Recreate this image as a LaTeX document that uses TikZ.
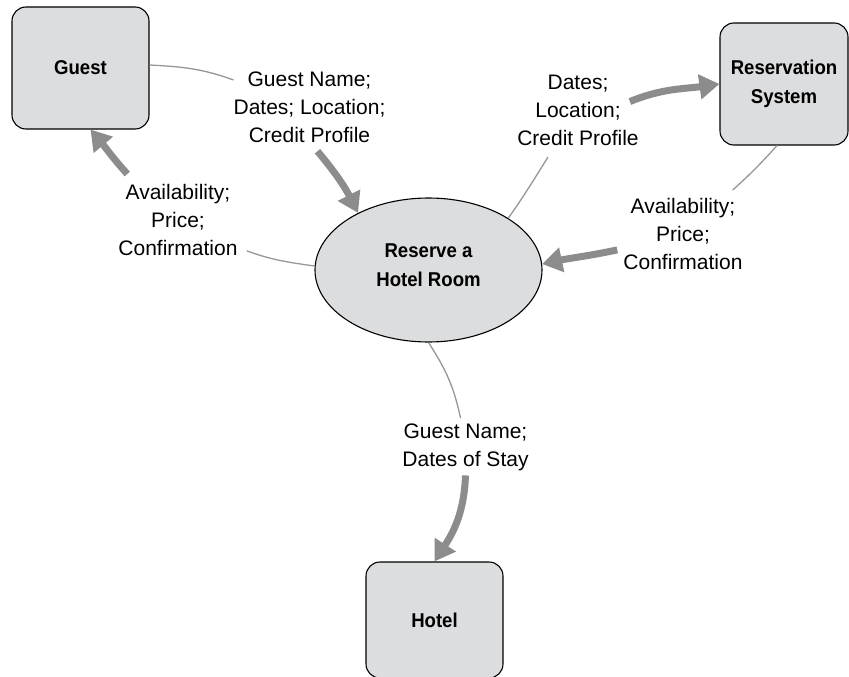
\documentclass[tikz,border=0pt]{standalone}
\usepackage{fontspec}
\setmainfont{Liberation Sans}
\newfontfamily\boxfont[FakeStretch=0.93]{Liberation Sans}
\usetikzlibrary{arrows.meta,shapes.geometric}
\definecolor{boxfill}{RGB}{220,221,223}
\definecolor{thickgray}{RGB}{140,140,140}
\definecolor{thingray}{RGB}{150,150,150}
\begin{document}
\begin{tikzpicture}[x=1pt,y=1pt,
  entity/.style={draw=black, line width=1.1pt, fill=boxfill, rounded corners=14pt,
    inner sep=0pt, align=center, font=\boxfont\bfseries\fontsize{20}{28.5}\selectfont},
  process/.style={ellipse, draw=black, line width=1.1pt, fill=boxfill, inner sep=0pt,
    minimum width=227pt, minimum height=144pt, align=center,
    font=\boxfont\bfseries\fontsize{20}{29}\selectfont},
  flowlabel/.style={inner sep=0pt, anchor=north, align=center,
    font=\fontsize{21}{28}\selectfont},
  thinflow/.style={draw=thingray, line width=1.3pt},
  thickflow/.style={draw=thickgray, line width=7pt, -{Triangle[length=20pt,width=24pt]}}
]
\useasboundingbox (0,0) rectangle (849,-677);

% entities and process
\node[entity, minimum width=137pt, minimum height=122pt] (guest) at (80.5,-68) {Guest};
\node[entity, minimum width=128pt, minimum height=122pt] (res) at (784,-84) {Reservation\\System};
\node[entity, minimum width=137pt, minimum height=116pt] (hotel) at (434.5,-620) {Hotel};
\node[process] (ell) at (428.5,-270) {Reserve a\\Hotel Room\rule[-9pt]{0pt}{0pt}};

% flow labels
\node[flowlabel] (l1) at (309.5,-72) {Guest Name;\\Dates; Location;\\Credit Profile};
\node[flowlabel] (l2) at (178,-184) {Availability;\\Price;\\Confirmation};
\node[flowlabel] (l3) at (578,-75) {Dates;\\Location;\\Credit Profile};
\node[flowlabel] (l4) at (683,-198) {Availability;\\Price;\\Confirmation};
\node[flowlabel] (l5) at (465.5,-424) {Guest Name;\\Dates of Stay};

% Guest -> process
\draw[thinflow] ([yshift=3pt]guest.east) to[out=-3,in=160] (l1);
\draw[thickflow] ([shift={(8pt,-8pt)}]l1.south) to[out=-50,in=117] (ell.141);

% process -> Guest
\draw[thinflow] (ell.178) to[out=172,in=-20] ([shift={(9pt,5pt)}]l2.south east);
\draw[thickflow] ([shift={(9pt,10pt)}]l2.north west) to[out=132,in=-50] ([xshift=10pt]guest.south);

% process -> Reservation System
\draw[thinflow] (ell.33) to[out=55,in=-122] ([shift={(-30pt,-11pt)}]l3.south);
\draw[thickflow] ([shift={(-9pt,9pt)}]l3.east) to[out=22,in=188] (res.west);

% Reservation System -> process
\draw[thinflow] ([xshift=-7pt]res.south) to[out=228,in=42] ([shift={(-10pt,8pt)}]l4.north east);
\draw[thickflow] ([shift={(-6pt,-16pt)}]l4.west) to[out=192,in=12] (ell.3);

% process -> Hotel
\draw[thinflow] (ell.south) to[out=-57,in=102] ([shift={(-5pt,6pt)}]l5.north);
\draw[thickflow] ([yshift=-4pt]l5.south) to[out=-92,in=57] (hotel.north);
\end{tikzpicture}
\end{document}
